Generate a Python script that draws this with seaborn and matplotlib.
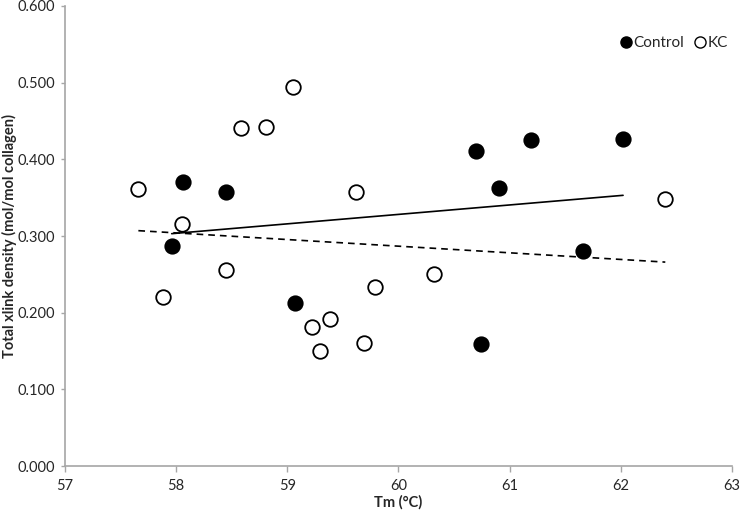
import numpy as np
import pandas as pd
import seaborn as sns
import matplotlib.pyplot as plt
from matplotlib.lines import Line2D
from matplotlib.ticker import FormatStrFormatter

# Tm (°C) and total crosslink density
control_tm = [57.96, 58.06, 58.45, 59.07, 60.70, 60.74, 60.90, 61.19, 61.66, 62.02]
control_xl = [0.287, 0.370, 0.357, 0.213, 0.411, 0.159, 0.363, 0.425, 0.280, 0.426]

kc_tm = [57.66, 57.88, 58.05, 58.45, 58.58, 58.81, 59.05, 59.22, 59.29, 59.38,
         59.62, 59.69, 59.79, 60.32, 62.40]
kc_xl = [0.361, 0.220, 0.315, 0.256, 0.441, 0.442, 0.494, 0.181, 0.150, 0.192,
         0.358, 0.161, 0.233, 0.251, 0.348]

x_ticks = [57, 58, 59, 60, 61, 62, 63]
y_ticks = [0.0, 0.1, 0.2, 0.3, 0.4, 0.5, 0.6]

df_control = pd.DataFrame({'tm': control_tm, 'xlink': control_xl})
df_kc = pd.DataFrame({'tm': kc_tm, 'xlink': kc_xl})

sns.set_style('white')
plt.rcParams['font.family'] = ['Lato', 'DejaVu Sans']

fig = plt.figure(figsize=(7.4, 5.14), dpi=100)
ax = fig.add_axes([65 / 740, 1 - 466 / 514, 667 / 740, 460 / 514])

# trend lines (linear fit per group)
sns.regplot(data=df_control, x='tm', y='xlink', ax=ax, scatter=False, ci=None,
            truncate=True, line_kws=dict(color='black', lw=1.2, ls='-'))
sns.regplot(data=df_kc, x='tm', y='xlink', ax=ax, scatter=False, ci=None,
            truncate=True, line_kws=dict(color='black', lw=1.2, ls=(0, (4, 3))))

sns.scatterplot(data=df_control, x='tm', y='xlink', ax=ax, s=110,
                color='black', edgecolor='black', linewidth=1.2, zorder=3)
sns.scatterplot(data=df_kc, x='tm', y='xlink', ax=ax, s=110,
                facecolor='white', edgecolor='black', linewidth=1.3, zorder=3)

ax.set_xlim(57, 63)
ax.set_ylim(0, 0.6)
ax.set_xticks(x_ticks)
ax.set_yticks(y_ticks)
ax.yaxis.set_major_formatter(FormatStrFormatter('%.3f'))
ax.tick_params(axis='both', labelsize=10.5, colors='#a6a6a6', labelcolor='#262626',
               width=1, direction='out', bottom=True, left=True)
ax.tick_params(axis='x', pad=5, length=4)
ax.tick_params(axis='y', pad=4, length=3)

for side in ['top', 'right']:
    ax.spines[side].set_visible(False)
for side in ['left', 'bottom']:
    ax.spines[side].set_color('#a6a6a6')
    ax.spines[side].set_linewidth(1.2)

ax.set_xlabel('Tm (°C)', fontsize=10.5, fontweight='bold')
ax.set_ylabel('Total xlink density (mol/mol collagen)', fontsize=10.5,
              fontweight='bold')
ax.xaxis.set_label_coords(0.5, -0.063)
ax.yaxis.set_label_coords(-0.072, 0.5)

handles = [
    Line2D([], [], marker='o', ls='', markersize=8, markerfacecolor='black',
           markeredgecolor='black', label='Control'),
    Line2D([], [], marker='o', ls='', markersize=8, markerfacecolor='white',
           markeredgecolor='black', label='KC'),
]
ax.legend(handles=handles, loc='upper right', bbox_to_anchor=(1.015, 0.965),
          ncol=2, frameon=False, fontsize=11, handletextpad=0.05,
          columnspacing=0.6, handlelength=0.9)

fig.savefig('out.png', dpi=100)
